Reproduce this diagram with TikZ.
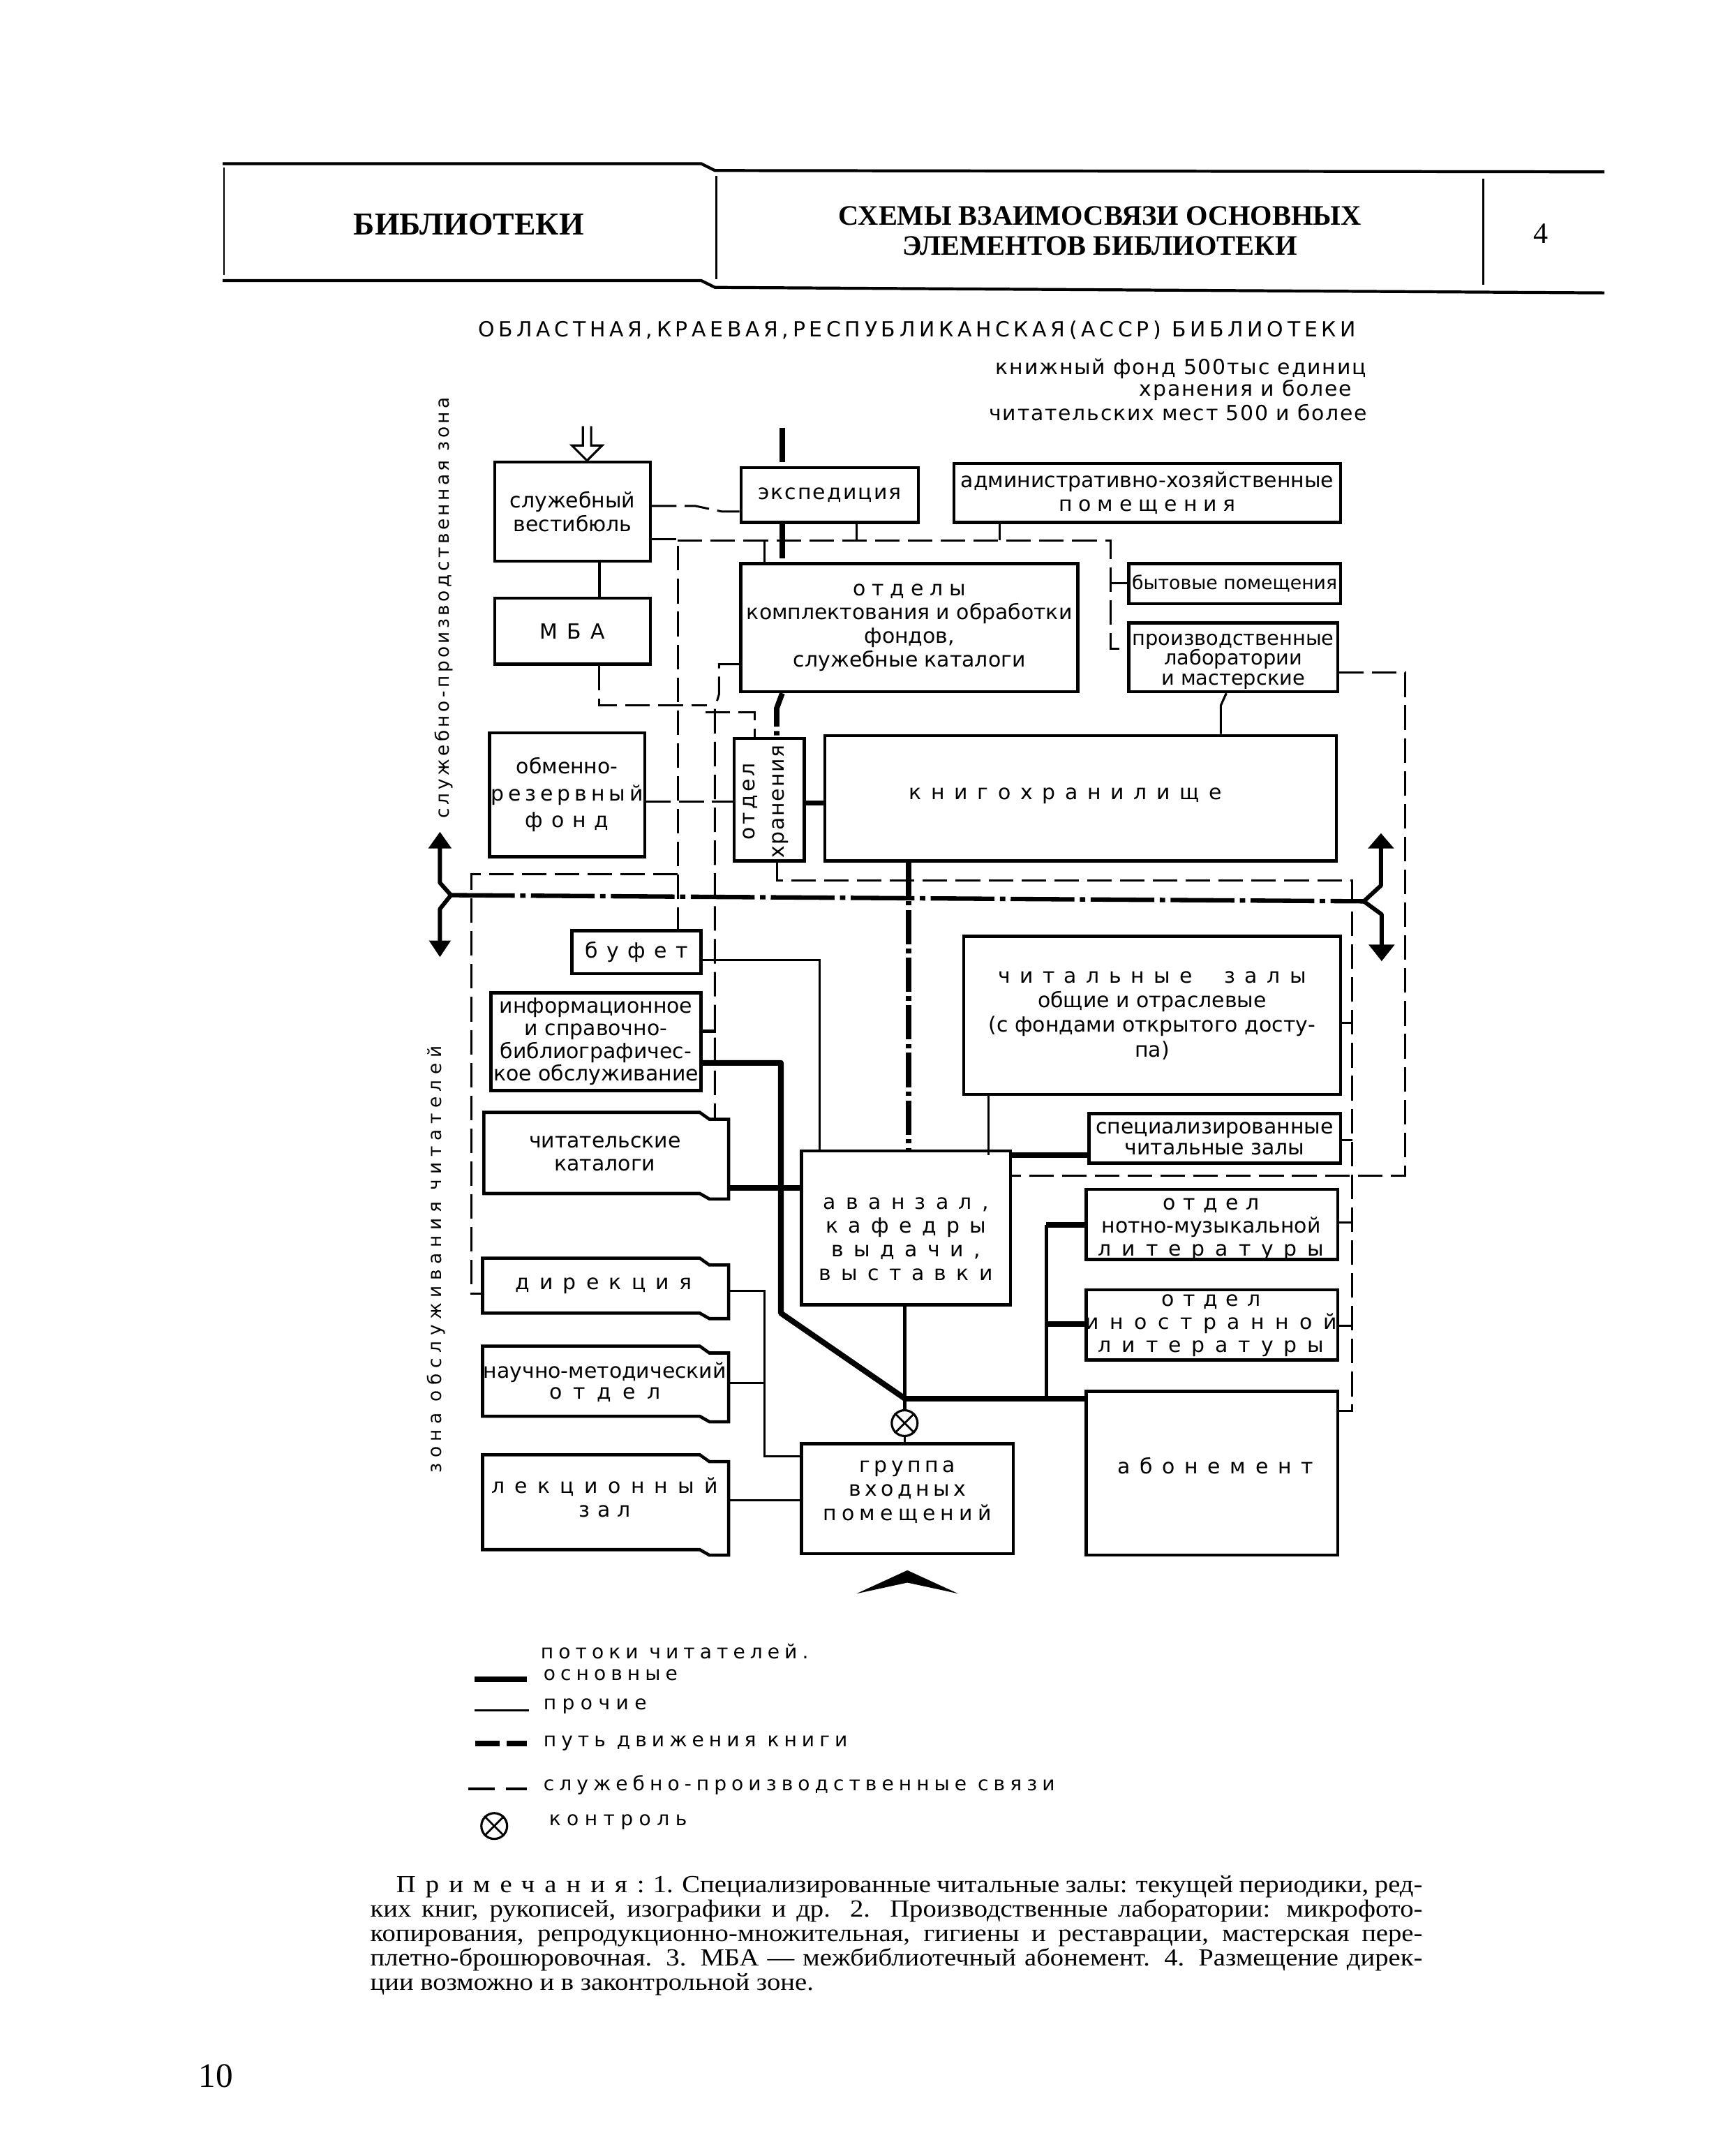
\documentclass[tikz,border=0pt]{standalone}
\usepackage{fontspec}
\setmainfont{DejaVu Sans}
\newfontfamily\srf{Liberation Serif}
\newfontfamily\srfw[FakeStretch=1.1]{Liberation Serif}
\usetikzlibrary{calc}
\newcommand\lsp[2]{{\addfontfeature{LetterSpace=#1}#2}}
\newcommand\fs[2]{\fontsize{#1pt}{#2pt}\selectfont}
\newcommand\bx[6]{\node[box,minimum width={(#4-#2)*0.56066},minimum height={(#5-#3)*0.56066}] (#1) at ({(#2+#4)/2},{(#3+#5)/2}) {#6};}
\newcommand\nbx[5]{%
 \node[inner sep=0pt,minimum width={(#4-#2)*0.56066},minimum height={(#5-#3)*0.56066}] (#1) at ({(#2+#4)/2},{(#3+#5)/2}) {};
 \draw[bline] (#2,#3) -- ({#4-21},#3) -- ({#4-14},{#3+5}) -- (#4,{#3+5}) -- (#4,{#5+4}) -- ({#4-14},{#5+4}) -- ({#4-21},#5) -- (#2,#5) -- cycle;}
\begin{document}
\begin{tikzpicture}[x=0.019705cm,y=-0.019705cm,
 box/.style={draw,line width=1.3pt,inner sep=0pt,align=center,font=\fs{8.5}{9.6}},
 bline/.style={line width=1.3pt,line join=miter},
 main/.style={line width=2.3pt},
 mid/.style={line width=1.4pt},
 other/.style={line width=0.9pt},
 svc/.style={line width=0.85pt,dash pattern=on 10pt off 3.4pt},
 book/.style={line width=2.2pt,dash pattern=on 14pt off 1.8pt on 1.8pt off 1.8pt},
 zone/.style={line width=1.8pt,dash pattern=on 26pt off 2.2pt on 2.2pt off 2.2pt},
 zarr/.style={line width=1.7pt,line join=round},
 txt/.style={inner sep=0pt,align=center,font=\fs{8.5}{9.6}},
 ctrl/.style={draw,circle,line width=0.9pt,minimum size=10.5pt,inner sep=0pt}
]
\fill[white] (0,0) rectangle (1253,1568);
\useasboundingbox (0,0) rectangle (1253,1568);

% ---------- header ----------
\draw[line width=1.2pt] (162,119) -- (510,119) -- (520,124) -- (1167,125);
\draw[line width=1.2pt] (162,204) -- (510,204) -- (520,209) -- (1167,213);
\draw[line width=0.7pt] (163,122) -- (163,200);
\draw[line width=0.7pt] (521,128) -- (521,203);
\draw[line width=0.7pt] (1079,130) -- (1079,207);
\node[inner sep=0pt,font=\srf\bfseries\fs{13}{15}] (hl) at (341,163) {БИБЛИОТЕКИ};
\node[inner sep=0pt,align=center,font=\srf\bfseries\fs{11.5}{12.1}] (hm) at (800,168) {СХЕМЫ ВЗАИМОСВЯЗИ ОСНОВНЫХ\\ЭЛЕМЕНТОВ БИБЛИОТЕКИ};
\node[inner sep=0pt,font=\srf\fs{12}{12}] (hr) at (1121,170) {4};

% ---------- title ----------
\node[txt,font=\fs{8.5}{9}] (title) at (667,240) {\lsp{19}{ОБЛАСТНАЯ,КРАЕВАЯ,РЕСПУБЛИКАНСКАЯ(АССР) БИБЛИОТЕКИ}};
\node[txt] (r1) at (859,268) {\lsp{6}{книжный фонд 500тыс единиц}};
\node[txt] (r2) at (906,284) {\lsp{6}{хранения и более}};
\node[txt] (r3) at (857,300) {\lsp{6}{читательских мест 500 и более}};

\node[txt,rotate=90,font=\fs{7.5}{9}] (zs) at (323,442) {\lsp{17}{служебно-производственная зона}};
\node[txt,rotate=90,font=\fs{7.5}{9}] (zc) at (317,916) {\lsp{29}{зона обслуживания читателей}};

% ---------- boxes ----------
\bx{vest}{360}{336}{473}{408}{служебный\\вестибюль}
\bx{exped}{539}{340}{668}{380}{\lsp{7}{экспедиция}}
\bx{admin}{694}{337}{975}{380}{административно-хозяйственные\\\lsp{30}{помещения}}
\bx{mba}{360}{435}{473}{483}{\lsp{45}{МБА}}
\bx{otdely}{539}{410}{784}{503}{\lsp{30}{отделы}\\комплектования и обработки\\фондов,\\служебные каталоги}
\node[box,minimum width={(975-821)*0.56066},minimum height={(439-410)*0.56066},font=\fs{7.6}{8}] (byt) at ({(821+975)/2},{(410+439)/2}) {бытовые помещения};
\bx{prod}{821}{453}{973}{503}{}
\node[txt,font=\fs{8.2}{8.1}] (prodt) at (897,481) {производственные\\лаборатории\\и мастерские};
\node[box,minimum width={(469-356)*0.56066},minimum height={(623-533)*0.56066},font=\fs{8.5}{11}] (obm) at ({(356+469)/2},{(533+623)/2}) {обменно-\\\lsp{20}{резервный}\\\lsp{40}{фонд}};
\bx{hran}{534}{537}{585}{626}{}
\node[txt,rotate=90,font=\fs{8.5}{11.8}] (hrant) at (557,583) {\lsp{14}{отдел}\\\lsp{6}{хранения}};
\bx{kniga}{600}{535}{972}{626}{}
\node[txt] (knigat) at (775,579) {\lsp{46}{книгохранилище}};
\bx{bufet}{416}{677}{510}{708}{\lsp{42}{буфет}}
\node[box,minimum width={(510-357)*0.56066},minimum height={(793-722)*0.56066},font=\fs{8.5}{9.2}] (info) at ({(357+510)/2},{(722+793)/2}) {информационное\\и справочно-\\библиографичес-\\кое обслуживание};
\nbx{katal}{352}{809}{530}{868}
\node[txt] (katalt) at (440,839) {читательские\\каталоги};
\node[box,minimum width={(975-701)*0.56066},minimum height={(796-681)*0.56066},font=\fs{8.5}{10}] (chz) at ({(701+975)/2},{(681+796)/2}) {\lsp{45}{читальные\ \ залы}\\общие и отраслевые\\(с фондами открытого досту-\\па)};
\node[box,minimum width={(975-792)*0.56066},minimum height={(846-810)*0.56066},font=\fs{8.5}{8.6}] (spec) at ({(792+975)/2},{(810+846)/2}) {специализированные\\читальные залы};
\bx{avan}{583}{837}{735}{949}{}
\node[txt,font=\fs{8.5}{9.7}] (avant) at (659,901) {\lsp{48}{аванзал,}\\\lsp{48}{кафедры}\\\lsp{48}{выдачи,}\\\lsp{48}{выставки}};
\bx{noty}{790}{865}{973}{916}{}
\node[txt,font=\fs{8.5}{9.3}] (notyt) at (881,894) {\lsp{37}{отдел}\\нотно-музыкальной\\\lsp{50}{литературы}};
\bx{inostr}{790}{938}{973}{989}{}
\node[txt,font=\fs{8.5}{9.5}] (inostrt) at (881,964) {\lsp{40}{отдел}\\\lsp{52}{иностранной}\\\lsp{50}{литературы}};
\nbx{direk}{351}{915}{530}{955}
\node[txt] (direkt) at (439,935) {\lsp{48}{дирекция}};
\nbx{nauch}{351}{979}{530}{1030}
\node[txt,font=\fs{8.5}{8.6}] (naucht) at (440,1005) {научно-методический\\\lsp{55}{отдел}};
\nbx{lekc}{351}{1058}{530}{1127}
\node[txt] (lekct) at (440,1089) {\lsp{48}{лекционный}\\\lsp{35}{зал}};
\bx{gruppa}{583}{1050}{737}{1130}{}
\node[txt,font=\fs{8.5}{9.8}] (gruppat) at (660,1085) {\lsp{18}{группа}\\\lsp{18}{входных}\\\lsp{24}{помещений}};
\bx{abon}{790}{1012}{973}{1131}{}
\node[txt] (abont) at (884,1066) {\lsp{46}{абонемент}};

% ---------- service-production links (dashed) ----------
\draw[svc] (vest.east |- 0,368) -- (506,368) -- (525,372) -- (exped.west |- 0,372);
\draw[svc] (vest.east |- 0,392) -- (493,392) -- (493,0 |- bufet.north);
\draw[svc] (493,393) -- (808,393) -- (808,472) -- (prod.west |- 0,472);
\draw[svc] (808,424) -- (byt.west |- 0,424);
\draw[svc] (623,0 |- exped.south) -- (623,393);
\draw[svc] (727,0 |- admin.south) -- (727,393);
\draw[svc] (556,393) -- (556,0 |- otdely.north);
\draw[other] (436,0 |- vest.south) -- (436,0 |- mba.north);
\draw[svc] (436,0 |- mba.south) -- (436,513) -- (514,513);
\draw[svc] (513,518) -- (549,518) -- (549,0 |- hran.north);
\draw[svc] (otdely.west |- 0,483) -- (523,483) -- (523,505) -- (520,515) -- (520,814);
\draw[svc] (obm.east |- 0,583) -- (hran.west |- 0,583);
\draw[svc] (493,636) -- (343,636) -- (343,941) -- (direk.west |- 0,941);
\draw[svc] (565,0 |- hran.south) -- (565,640.5) -- (983.5,640.5) -- (983.5,1026) -- (abon.east |- 0,1026);
\draw[svc] (chz.east |- 0,744) -- (983.5,744);
\draw[svc] (spec.east |- 0,829) -- (983.5,829);
\draw[svc] (noty.east |- 0,889) -- (983.5,889);
\draw[svc] (inostr.east |- 0,964) -- (983.5,964);
\draw[svc] (prod.east |- 0,489) -- (1022,489) -- (1022,855) -- (avan.east |- 0,855);
\draw[other] (892,0 |- prod.south) -- (888,513) -- (888,0 |- kniga.north);

% ---------- book path ----------
\coordinate (bk0) at (569,311);
\draw[book] (bk0) -- (bk0 |- exped.north);
\draw[book] (569,0 |- exped.south) -- (569,0 |- otdely.north);
\draw[book] (569,0 |- otdely.south) -- (565,515) -- (565,0 |- hran.north);
\draw[line width=2.2pt] (hran.east |- 0,584) -- (kniga.west |- 0,584);
\draw[book] (661,0 |- kniga.south) -- (661,0 |- avan.north);

% ---------- zone boundary ----------
\coordinate (zl) at (328,651);
\coordinate (zr) at (992,655.5);
\draw[zone] (zl) -- (zr);
\draw[zarr] (320,615) -- (320,642) -- (zl) -- (320,661) -- (320,686);
\fill (320,605) -- (311.5,617) -- (328.5,617) -- cycle;
\fill (320,696) -- (312,684) -- (328,684) -- cycle;
\draw[zarr] (1004.5,616) -- (1004.5,644) -- (zr) -- (1005,665) -- (1005,688);
\fill (1004.5,606) -- (995,617) -- (1014,617) -- cycle;
\fill (1005,699) -- (995.5,687) -- (1014.5,687) -- cycle;

% ---------- entrance arrow to service vestibule ----------
\draw[line width=0.9pt,fill=white,line join=miter] (424,310) -- (424,324) -- (416,324) -- (427,335) -- (438,324) -- (430,324) -- (430,310);

% ---------- readers flows ----------
\coordinate (j) at (658,1017);
\draw[main,line join=round] (info.east |- 0,773) -- (568,773) -- (568,955) -- (j);
\draw[main] (katal.east |- 0,864) -- (avan.west |- 0,864);
\draw[main] (j) -- (abon.west |- j);
\draw[main] (avan.east |- 0,840) -- (spec.west |- 0,840);
\draw[other] (719,0 |- chz.south) -- (719,840);
\draw[mid] (761,891) -- (761,1017);
\draw[main] (761,891) -- (noty.west |- 0,891);
\draw[main] (761,963) -- (inostr.west |- 0,963);
\draw[other] (bufet.east |- 0,698) -- (596,698) -- (596,0 |- avan.north);
\draw[mid] (info.east |- 0,750) -- (521,750);
\draw[mid] (658,0 |- avan.south) -- (j);
\node[ctrl] (ctl) at (658,1035) {};
\draw[line width=0.8pt] (ctl.north west) -- (ctl.south east) (ctl.north east) -- (ctl.south west);
\draw[mid] (j) -- (ctl.north);
\draw[other] (ctl.south) -- (ctl.south |- gruppa.north);
\draw[other] (direk.east |- 0,939) -- (556,939) -- (556,1059) -- (gruppa.west |- 0,1059);
\draw[other] (nauch.east |- 0,1006) -- (556,1006);
\draw[other] (lekc.east |- 0,1091) -- (gruppa.west |- 0,1091);
\fill (623,1159) -- (660,1142) -- (697,1159) -- (660,1151) -- cycle;

% ---------- legend ----------
\node[txt,anchor=west,font=\fs{8}{9}] (l0) at (393,1201) {\lsp{25}{потоки читателей.}};
\draw[main] (345,1221.5) -- (383,1221.5);
\node[txt,anchor=west,font=\fs{8}{9}] (l1) at (395,1218) {\lsp{25}{основные}};
\draw[other] (345,1244) -- (385,1244);
\node[txt,anchor=west,font=\fs{8}{9}] (l2) at (395,1241) {\lsp{30}{прочие}};
\draw[line width=2.4pt,dash pattern=on 10pt off 2.8pt] (345.5,1268) -- (383,1268);
\node[txt,anchor=west,font=\fs{8}{9}] (l3) at (395,1268) {\lsp{25}{путь движения книги}};
\draw[line width=0.9pt,dash pattern=on 11pt off 4.5pt] (340.5,1301) -- (383,1301);
\node[txt,anchor=west,font=\fs{8}{9}] (l4) at (395,1298) {\lsp{25}{служебно-производственные связи}};
\node[ctrl] (lc) at (359.5,1328) {};
\draw[line width=0.8pt] (lc.north west) -- (lc.south east) (lc.north east) -- (lc.south west);
\node[txt,anchor=west,font=\fs{8}{9}] (l5) at (399,1325) {\lsp{30}{контроль}};

% ---------- notes ----------
\node[inner sep=0pt,anchor=north west,align=left,font=\srfw\fs{10}{9.9}] (notes) at (269,1364) {%
\makebox[429pt][s]{\hspace*{10.6pt}\lsp{40}{Примечания:} 1. Специализированные читальные залы: текущей периодики, ред-}\\
\makebox[429pt][s]{ких книг, рукописей, изографики и др. 2. Производственные лаборатории: микрофото-}\\
\makebox[429pt][s]{копирования, репродукционно-множительная, гигиены и реставрации, мастерская пере-}\\
\makebox[429pt][s]{плетно-брошюровочная. 3. МБА — межбиблиотечный абонемент. 4. Размещение дирек-}\\
ции возможно и в законтрольной зоне.};
\node[inner sep=0pt,font=\srf\fs{14}{14}] (pg) at (157,1510) {10};
\end{tikzpicture}
\end{document}
